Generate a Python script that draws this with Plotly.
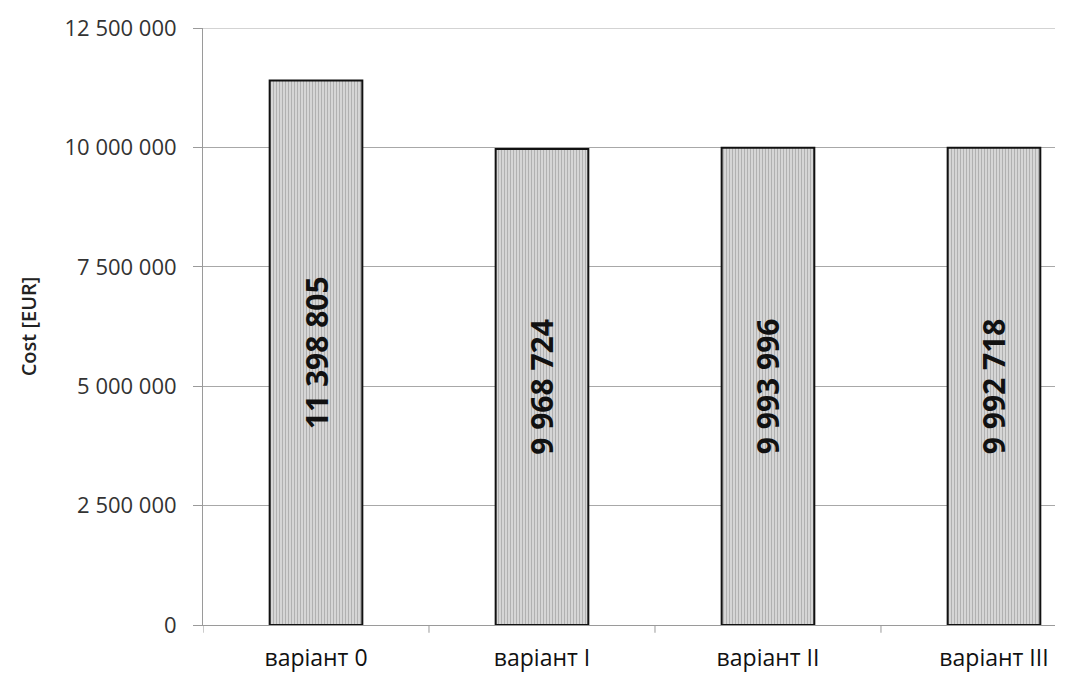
import plotly.graph_objects as go

categories = ["варіант 0", "варіант I", "варіант II", "варіант III"]
costs = [11398805, 9968724, 9993996, 9992718]
y_ticks = [0, 2500000, 5000000, 7500000, 10000000, 12500000]


def fmt(v):
    # thousands separated by a space
    return f"{v:,}".replace(",", " ")


fig = go.Figure(
    go.Bar(
        x=list(range(len(categories))),
        y=costs,
        width=0.41,
        text=[fmt(v) for v in costs],
        textposition="inside",
        insidetextanchor="middle",
        textangle=-90,
        textfont=dict(family="Open Sans", size=30, color="#111111", weight="bold"),
        marker=dict(
            color="#c4c4c4",
            line=dict(color="#111111", width=2),
            pattern=dict(shape="|", fgcolor="#8c8c8c", bgcolor="#d6d6d6",
                         size=3, solidity=0.35),
        ),
        hoverinfo="skip",
    )
)

fig.update_layout(
    width=1070,
    height=688,
    margin=dict(l=203, r=15, t=24, b=63),
    paper_bgcolor="white",
    plot_bgcolor="white",
    showlegend=False,
    font=dict(family="Open Sans", color="#222222"),
)

fig.update_xaxes(
    range=[-0.5, 3.27],
    tickmode="array",
    tickvals=list(range(len(categories))),
    ticktext=categories,
    tickfont=dict(size=23, color="#111111"),
    showline=True,
    linecolor="#9a9a9a",
    linewidth=1,
    showgrid=False,
    ticks="",
    ticklabelstandoff=12,
    zeroline=False,
)

# category boundary ticks drawn on the axis
for b in [-0.5, 0.5, 1.5, 2.5]:
    fig.add_shape(type="line", xref="x", yref="paper", x0=b, x1=b, y0=0, y1=-0.013,
                  line=dict(color="#9a9a9a", width=1))

# gridline at the top of the value range
fig.add_shape(type="line", xref="paper", yref="y", x0=0, x1=1,
              y0=y_ticks[-1], y1=y_ticks[-1], layer="below",
              line=dict(color="#a8a8a8", width=1))

fig.update_yaxes(
    range=[0, 12500000],
    tickmode="array",
    tickvals=y_ticks,
    ticktext=[fmt(v) for v in y_ticks],
    tickfont=dict(size=22, color="#333333"),
    ticks="outside",
    ticklen=9,
    tickcolor="#9a9a9a",
    showline=True,
    linecolor="#9a9a9a",
    linewidth=1,
    showgrid=True,
    gridcolor="#a8a8a8",
    gridwidth=1,
    zeroline=False,
    ticklabelstandoff=12,
    title=dict(text="Cost [EUR]",
               font=dict(size=20, color="#222222", weight=600),
               standoff=22),
)

fig.write_html("out.html")
